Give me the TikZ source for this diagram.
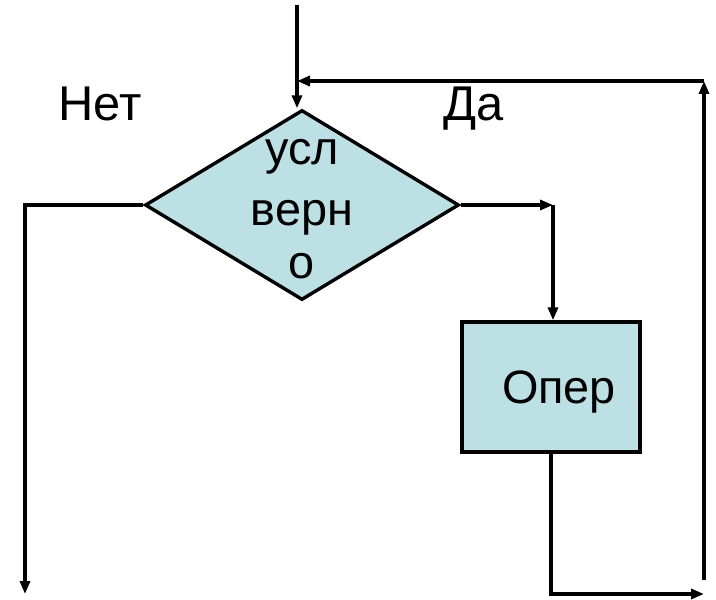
\documentclass[tikz,border=0pt]{standalone}
\usepackage{fontspec}
\setmainfont{Liberation Sans}
\usetikzlibrary{arrows.meta,shapes.geometric}
\definecolor{boxfill}{RGB}{189,224,228}
\begin{document}
\begin{tikzpicture}[x=1bp,y=-1bp,
  line width=3.4bp,
  arr/.style={-{Triangle[length=13bp,width=10bp]}},
  shapebox/.style={draw=black,fill=boxfill,inner sep=0pt},
  lbl/.style={font=\fontsize{47}{56}\selectfont,inner sep=0pt,anchor=base}]
\useasboundingbox (0,0) rectangle (716,600);
% nodes
\node[shapebox,diamond,minimum width=314bp,minimum height=190bp] (dia) at (302,205) {};
\node[lbl] (t1) at (302,165) {усл};
\node[lbl] (t2) at (302,225) {верн};
\node[lbl] (t3) at (302,278) {о};
\node[shapebox,minimum width=178bp,minimum height=130bp] (op) at (551,387) {};
\node[lbl] (optxt) at (559,403) {Опер};
\node[lbl,font=\fontsize{49}{56}\selectfont] (no) at (100,121) {Нет};
\node[lbl,font=\fontsize{49}{56}\selectfont] (yes) at (474,121) {Да};
% coordinates
\coordinate (top) at (297,5);
\coordinate (L2) at (25,594);
\coordinate (R1) at (553,205);
\coordinate (B2) at (704,594);
\coordinate (RB) at (704,580);
\coordinate (RT) at (704,81);
\coordinate (JT) at (297,81);
% connectors
\draw[arr] (top) -- (top |- dia.north);
\draw[arr] (dia.west) -| (L2);
\draw[arr] (dia.east) -- (R1);
\draw[arr] (R1) -- (R1 |- op.north);
\draw[arr] (op.south) |- (B2);
\draw[arr] (RB) -- (RT);
\draw[arr] (RT) -- (JT);
\end{tikzpicture}
\end{document}
